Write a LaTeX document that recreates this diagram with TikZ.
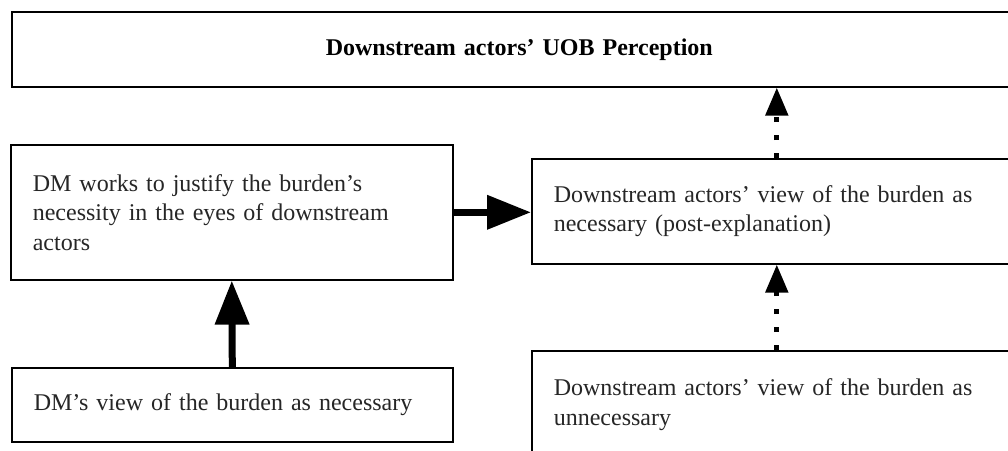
\documentclass[tikz,border=0pt]{standalone}
\usepackage{fontspec}
\setmainfont{Liberation Serif}
\usetikzlibrary{arrows.meta}
\begin{document}
\begin{tikzpicture}[x=1pt,y=-1pt,
  box/.style={draw=black, line width=1.6pt, fill=white, inner xsep=22pt, inner ysep=0pt,
    anchor=north west, align=left, text=black!85,
    font=\fontsize{24pt}{29.5pt}\selectfont},
  titlebox/.style={box, align=center, text=black, font=\fontsize{24pt}{29.5pt}\selectfont\bfseries},
  thickarrow/.style={line width=7pt, -{Triangle[length=44pt,width=33pt]}},
  dotarrow/.style={line width=5pt, dash pattern=on 5pt off 13pt,
    -{Triangle[length=28pt,width=22pt]}}]
\useasboundingbox (0,0) rectangle (1008,450);
\clip (0,0) rectangle (1008,450);
\fill[white] (0,0) rectangle (1008,450);

% boxes
\node[titlebox, minimum width=1015pt, minimum height=75pt, text width=971pt] (uob) at (11,11)
  {Downstream actors’ UOB Perception};
\node[box, minimum width=442pt, minimum height=135pt, text width=398pt] (just) at (10,144)
  {DM works to justify the burden’s\\ necessity in the eyes of downstream\\ actors};
\node[box, minimum width=490pt, minimum height=105pt, text width=446pt] (post) at (531,158)
  {Downstream actors’ view of the burden as\\ necessary (post-explanation)};
\node[box, minimum width=441pt, minimum height=74pt, text width=397pt] (dmview) at (11,367)
  {DM’s view of the burden as necessary};
\node[box, minimum width=490pt, minimum height=108pt, text width=446pt] (unnec) at (531,350)
  {Downstream actors’ view of the burden as\\ unnecessary};

% connectors
\draw[thickarrow] (dmview.north) -- (just.south);
\draw[thickarrow] (just.east) -- (just.east -| post.west);
\draw[dotarrow] (post.north) -- (post.north |- uob.south);
\draw[dotarrow] (unnec.north) -- (post.south);
\end{tikzpicture}
\end{document}
